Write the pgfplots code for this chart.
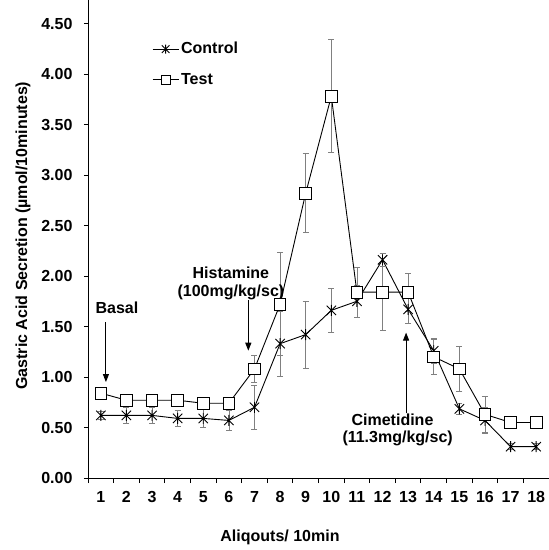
\documentclass[border=0pt]{standalone}
\usepackage{fontspec}
\setmainfont{Liberation Sans}
\usepackage{pgfplots}
\pgfplotsset{compat=1.18}
\usetikzlibrary{arrows.meta}
\pgfdeclareplotmark{xstar}{%
  \pgfpathmoveto{\pgfqpoint{0pt}{\pgfplotmarksize}}%
  \pgfpathlineto{\pgfqpoint{0pt}{-\pgfplotmarksize}}%
  \pgfpathmoveto{\pgfqpoint{-0.85\pgfplotmarksize}{0.85\pgfplotmarksize}}%
  \pgfpathlineto{\pgfqpoint{0.85\pgfplotmarksize}{-0.85\pgfplotmarksize}}%
  \pgfpathmoveto{\pgfqpoint{-0.85\pgfplotmarksize}{-0.85\pgfplotmarksize}}%
  \pgfpathlineto{\pgfqpoint{0.85\pgfplotmarksize}{0.85\pgfplotmarksize}}%
  \pgfusepathqstroke}
\pgfplotstableread{
x c ce t te
1 0.62 0.04 0.84 0.05
2 0.62 0.08 0.77 0.04
3 0.62 0.08 0.77 0.04
4 0.59 0.08 0.77 0.04
5 0.59 0.09 0.74 0.04
6 0.57 0.10 0.74 0.05
7 0.70 0.22 1.08 0.13
8 1.33 0.32 1.72 0.51
9 1.42 0.33 2.82 0.39
10 1.66 0.22 3.78 0.56
11 1.75 0.16 1.84 0.25
12 2.16 0.06 1.84 0.38
13 1.67 0.14 1.84 0.19
14 1.26 0.12 1.20 0.17
15 0.685 0.05 1.08 0.22
16 0.57 0.13 0.63 0.18
17 0.31 0.03 0.55 0.03
18 0.31 0.03 0.55 0.03
}\data
\begin{document}
\fontsize{16}{19}\selectfont\bfseries
\begin{tikzpicture}
\begin{axis}[
  scale only axis, width=461pt, height=478pt,
  xmin=0.5, xmax=18.5, ymin=0, ymax=4.733,
  axis x line*=bottom, axis y line*=left,
  axis line style={black, line width=0.9pt},
  xtick={1,...,18},
  minor xtick={0.5,1.5,...,18.5},
  major x tick style={draw=none},
  ytick={0,0.5,...,4.5},
  tick align=outside,
  tick style={black, line width=0.9pt},
  major tick length=4pt, minor tick length=5pt,
  /pgf/number format/assume math mode=true,
  xticklabel style={yshift=-4pt},
  yticklabel style={xshift=-6pt, /pgf/number format/.cd, fixed, fixed zerofill, precision=2},
  xlabel={Aliqouts/ 10min},
  ylabel={Gastric Acid Secretion (µmol/10minutes)},
  xlabel style={at={(axis description cs:0.4165,-0.1245)}, anchor=center},
  ylabel style={at={(axis description cs:-0.141,0.507)}, anchor=center},
  legend style={at={(axis cs:3.0,4.096)}, anchor=west, draw=none, fill=none,
    row sep=13pt, inner sep=0pt, nodes={inner sep=2pt}},
  legend cell align=left,
  legend image code/.code={\draw[mark repeat=2,mark phase=2,#1, mark size=4.5pt] plot coordinates {(0pt,0pt) (13pt,0pt) (26pt,0pt)};},
  error bars/error bar style={gray, line width=0.7pt},
  error bars/error mark options={rotate=90, gray, mark size=3pt, line width=0.7pt},
]
\addplot[black, line width=0.9pt, mark=xstar, mark size=5.5pt, mark options={line width=0.9pt},
  error bars/.cd, y dir=both, y explicit]
  table[x=x, y=c, y error=ce]{\data};
\addlegendentry{Control}
\addplot[black, line width=0.9pt, mark=square*, mark size=5.8pt, mark options={fill=white, line width=0.9pt},
  error bars/.cd, y dir=both, y explicit]
  table[x=x, y=t, y error=te]{\data};
\addlegendentry{Test}
\node at (axis cs:1.63,1.69) {Basal};
\draw[-{Triangle[length=8pt,width=6pt]}, line width=1pt] (axis cs:1.2,1.54) -- (axis cs:1.2,0.95);
\node at (axis cs:6.08,2.03) {Histamine};
\node at (axis cs:6.08,1.84) {(100mg/kg/sc)};
\draw[-{Triangle[length=8pt,width=6pt]}, line width=1pt] (axis cs:6.76,1.76) -- (axis cs:6.76,1.26);
\node at (axis cs:12.39,0.576) {Cimetidine};
\node at (axis cs:12.59,0.39) {(11.3mg/kg/sc)};
\draw[-{Triangle[length=8pt,width=6pt]}, line width=1pt] (axis cs:12.92,0.64) -- (axis cs:12.92,1.44);
\end{axis}
\pgfresetboundingbox
\path (-88pt,-72pt) rectangle (461pt,478pt);
\end{tikzpicture}
\end{document}
